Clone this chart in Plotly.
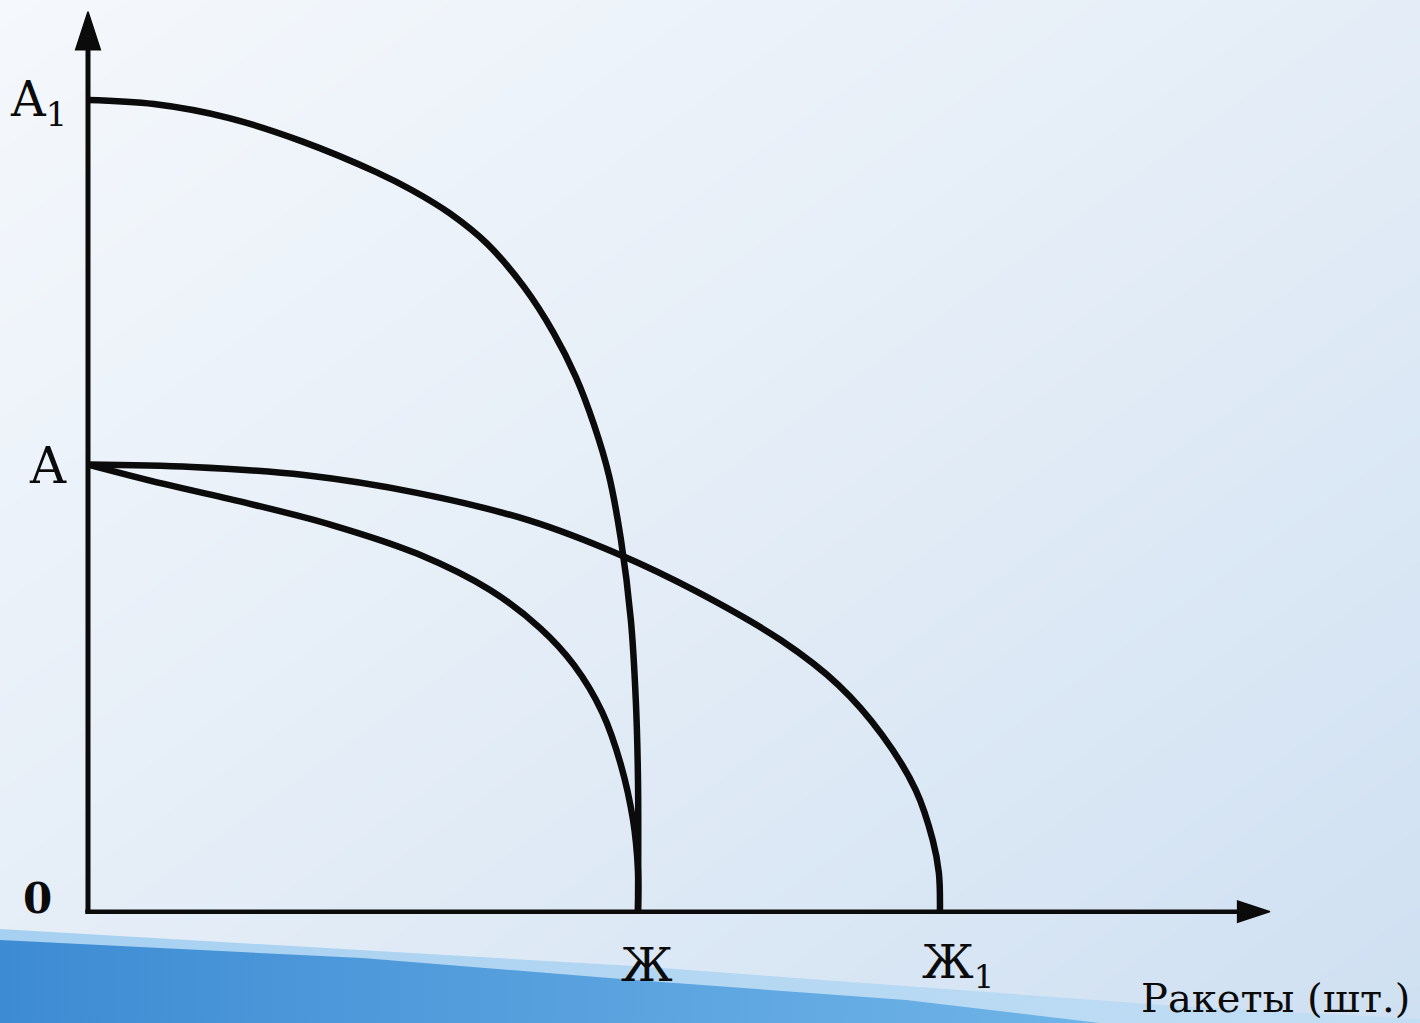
import plotly.graph_objects as go

# ---- data (arbitrary units: Ж = 100, A1 = 100) ----
curve_a1_x = [0, 12.0, 25.5, 38.9, 52.4, 59.1, 65.8, 72.5, 79.3, 84.7, 88.7, 92.0, 94.7, 96.9, 98.7, 99.6, 100, 100]
curve_a1_y = [100, 99.5, 97.8, 94.9, 91.1, 88.8, 86.0, 82.3, 76.9, 71.2, 65.8, 59.9, 53.7, 45.7, 35.8, 25.9, 16.0, 0]

curve_a_x = [0, 13.8, 29.1, 44.5, 59.8, 73.1, 82.2, 88.4, 93.5, 96.9, 99.1, 100, 100]
curve_a_y = [55, 52.6, 50.2, 47.5, 44.0, 39.5, 34.8, 30.2, 24.4, 17.9, 11.1, 4.9, 0]

curve_a_zh1_x = [0, 18.9, 39.3, 59.8, 80.2, 96.9, 110.7, 126.0, 136.4, 144.4, 150.5, 153.6, 154.7, 154.9]
curve_a_zh1_y = [55, 54.7, 53.7, 51.5, 48.1, 43.8, 39.3, 33.3, 27.8, 21.6, 14.8, 8.6, 4.6, 0]

y_tick_vals = [100, 55, 0]
y_tick_text = ["A<sub>1</sub>", "A", "<b>0</b>"]
x_tick_vals = [100, 155]
x_tick_text = ["Ж", "Ж<sub>1</sub>"]
x_title = "Ракеты (шт.)"

X_MAX_ARROW = 214.9
Y_MAX_ARROW = 110.9

W, H = 1420, 1023
INK = "#0b0b0b"
FONT = "DejaVu Serif"

fig = go.Figure()

# ---- background (pixel axes x/y) ----
fig.add_trace(go.Heatmap(
    x=[0, 710, 1420], y=[0, 511, 1023],
    z=[[0.0, 0.25, 0.5], [0.25, 0.5, 0.75], [0.5, 0.75, 1.0]],
    colorscale=[[0, "#f5f8fc"], [0.5, "#e4edf7"], [1, "#cfe0f2"]],
    zsmooth="best", showscale=False, hoverinfo="skip",
    xaxis="x", yaxis="y",
))
# light band of swoosh
fig.add_trace(go.Scatter(
    x=[0, 634, 1177, 1420, 1420, 0], y=[929, 966, 1006, 1019, 1023, 1023],
    fill="toself", mode="lines", line=dict(width=0),
    fillgradient=dict(type="horizontal", colorscale=[[0, "#a6d0f1"], [1, "#c2def4"]]),
    hoverinfo="skip", showlegend=False, xaxis="x", yaxis="y",
))
# dark band of swoosh
fig.add_trace(go.Scatter(
    x=[0, 362, 634, 906, 1100, 0], y=[940, 958, 980, 1000, 1023, 1023],
    fill="toself", mode="lines", line=dict(width=0),
    fillgradient=dict(type="horizontal", colorscale=[[0, "#3d8bd3"], [1, "#70b5e8"]]),
    hoverinfo="skip", showlegend=False, xaxis="x", yaxis="y",
))

# ---- axes (data axes x2/y2) ----
fig.add_trace(go.Scatter(x=[0, 0], y=[-0.3, Y_MAX_ARROW - 3], mode="lines",
                         line=dict(color=INK, width=5), hoverinfo="skip", showlegend=False,
                         xaxis="x2", yaxis="y2"))
fig.add_trace(go.Scatter(x=[-0.5, X_MAX_ARROW - 4], y=[-0.2, -0.2], mode="lines",
                         line=dict(color=INK, width=4.5), hoverinfo="skip", showlegend=False,
                         xaxis="x2", yaxis="y2"))
fig.add_trace(go.Scatter(x=[0, X_MAX_ARROW], y=[Y_MAX_ARROW, -0.2], mode="markers",
                         marker=dict(symbol="arrow", size=[40, 34], angle=[0, 90], color=INK,
                                     opacity=1, line=dict(width=1.5, color=INK)),
                         hoverinfo="skip", showlegend=False, xaxis="x2", yaxis="y2"))

# ---- curves ----
for xs, ys in [(curve_a1_x, curve_a1_y), (curve_a_x, curve_a_y), (curve_a_zh1_x, curve_a_zh1_y)]:
    fig.add_trace(go.Scatter(
        x=xs, y=ys, mode="lines",
        line=dict(color=INK, width=6.5, shape="spline", smoothing=1.0),
        hoverinfo="skip", showlegend=False, xaxis="x2", yaxis="y2",
    ))

annotations = []
# y labels
y_shifts = [(-19, -2, 48), (-19, -1, 50), (-34, 12, 42)]
for v, t, (xs_, ys_, fs) in zip(y_tick_vals, y_tick_text, y_shifts):
    annotations.append(dict(x=0, y=v, xref="x2", yref="y2", text=t, showarrow=False,
                            xanchor="right", yanchor="middle", xshift=xs_, yshift=ys_,
                            font=dict(family=FONT, size=fs, color=INK)))
# x labels
x_shifts = [(9, -55), (17, -55)]
for v, t, (xs_, ys_) in zip(x_tick_vals, x_tick_text, x_shifts):
    annotations.append(dict(x=v, y=0, xref="x2", yref="y2", text=t, showarrow=False,
                            xanchor="center", yanchor="middle", xshift=xs_, yshift=ys_,
                            font=dict(family=FONT, size=46, color=INK)))
annotations.append(dict(x=1412 / W, y=1 - 998 / H, xref="paper", yref="paper", text=x_title,
                        showarrow=False, xanchor="right", yanchor="middle",
                        font=dict(family=FONT, size=40, color=INK)))

fig.update_layout(
    width=W, height=H,
    margin=dict(l=0, r=0, t=0, b=0, pad=0),
    paper_bgcolor="#e8eff8", plot_bgcolor="rgba(0,0,0,0)",
    showlegend=False,
    xaxis=dict(range=[0, W], visible=False, fixedrange=True),
    yaxis=dict(range=[H, 0], visible=False, fixedrange=True),
    xaxis2=dict(range=[-16, 242.18], overlaying="x", visible=False, fixedrange=True),
    yaxis2=dict(range=[-13.95, 112.35], overlaying="y", visible=False, fixedrange=True),
    annotations=annotations,
)

fig.write_html("out.html", config={"displayModeBar": False},
               post_script="document.body.style.margin='0';document.body.style.overflow='hidden';")
